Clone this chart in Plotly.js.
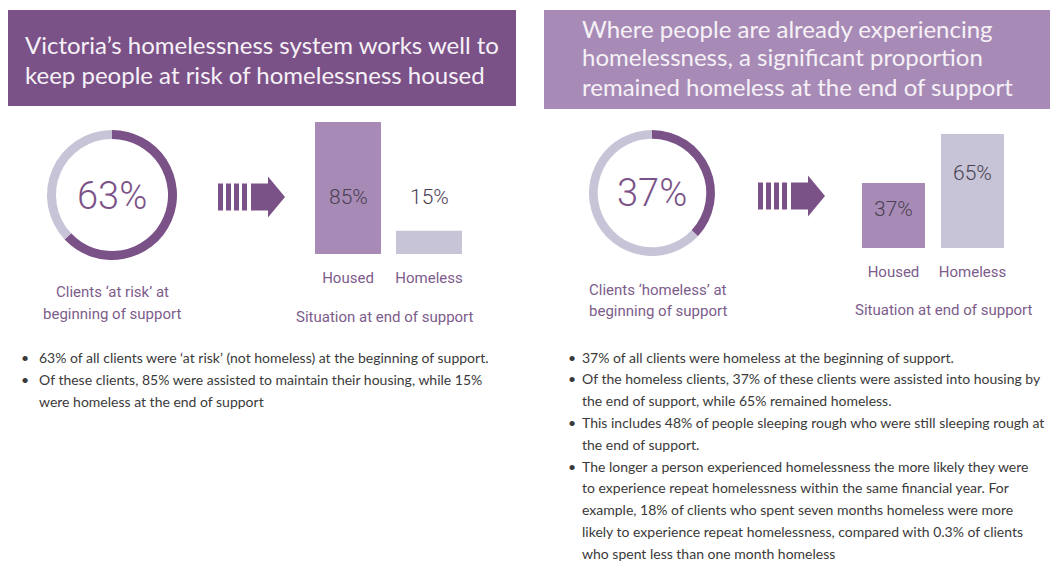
<!DOCTYPE html>
<html>
<head>
<meta charset="utf-8">
<script src="https://cdn.plot.ly/plotly-3.0.1.min.js"></script>
<style>
  html, body { margin: 0; padding: 0; background: #ffffff; }
  #chart { width: 1052px; height: 563px; }
</style>
</head>
<body>
<div id="chart"></div>
<script>
// ---------------- DATA ----------------
const leftHeader = ["Victoria\u2019s homelessness system works well to", "keep people at risk of homelessness housed"];
const rightHeader = ["Where people are already experiencing", "homelessness, a significant proportion", "remained homeless at the end of support"];

const donutSlices = ["Share", "Rest"];
const atRiskStart = [63, 37];      // % of all clients 'at risk' at beginning of support
const homelessStart = [37, 63];    // % of all clients 'homeless' at beginning of support

const outcomeCategories = ["Housed", "Homeless"];
const atRiskOutcomes = [85, 15];   // situation at end of support, 'at risk' clients
const homelessOutcomes = [37, 65]; // situation at end of support, homeless clients

const leftDonutCaption = ["Clients \u2018at risk\u2019 at", "beginning of support"];
const rightDonutCaption = ["Clients \u2018homeless\u2019 at", "beginning of support"];
const barCaption = "Situation at end of support";

const leftBullets = [
  ["63% of all clients were \u2018at risk\u2019 (not homeless) at the beginning of support."],
  ["Of these clients, 85% were assisted to maintain their housing, while 15%", "were homeless at the end of support"]
];
const rightBullets = [
  ["37% of all clients were homeless at the beginning of support."],
  ["Of the homeless clients, 37% of these clients were assisted into housing by", "the end of support, while 65% remained homeless."],
  ["This includes 48% of people sleeping rough who were still sleeping rough at", "the end of support."],
  ["The longer a person experienced homelessness the more likely they were", "to experience repeat homelessness within the same financial year. For", "example, 18% of clients who spent seven months homeless were more", "likely to experience repeat homelessness, compared with 0.3% of clients", "who spent less than one month homeless"]
];

// ---------------- STYLE ----------------
const W = 1052, H = 563;
const px = x => x / W;
const py = y => 1 - y / H;
const DARK = "#7b5288";
const LIGHT = "#a78bb6";
const GREY = "#c6c4d6";
const LABEL = "#7d5c8b";
const VALUE = "#4a4152";
const BODY = "#3a3a3a";

function ann(text, x, y, o) {
  o = o || {};
  return {
    text: text, x: px(x), y: py(y), xref: "paper", yref: "paper",
    showarrow: false, xanchor: o.xanchor || "center", yanchor: "middle",
    font: Object.assign({family: "Lato", size: 14, color: BODY}, o.font || {})
  };
}

const traces = [];
// donuts
function donut(values, x0, x1, y0, y1) {
  return {
    type: "pie", values: values, labels: donutSlices, sort: false,
    direction: "clockwise", rotation: 0, hole: 0.862,
    marker: {colors: [DARK, GREY], line: {width: 0}},
    textinfo: "none", hoverinfo: "skip", showlegend: false,
    domain: {x: [px(x0), px(x1)], y: [py(y1), py(y0)]}
  };
}
traces.push(donut(atRiskStart, 47, 177, 130, 260));
traces.push(donut(homelessStart, 589, 715, 130, 256));

// bars
traces.push({
  type: "bar", x: outcomeCategories, y: atRiskOutcomes, xaxis: "x", yaxis: "y",
  width: 0.815, marker: {color: [LIGHT, GREY], line: {width: 0}},
  hoverinfo: "skip", showlegend: false
});
traces.push({
  type: "bar", x: outcomeCategories, y: homelessOutcomes, xaxis: "x2", yaxis: "y2",
  width: 0.797, marker: {color: [LIGHT, GREY], line: {width: 0}},
  hoverinfo: "skip", showlegend: false
});

const shapes = [];
// header boxes
shapes.push({type: "rect", xref: "paper", yref: "paper", x0: px(8), x1: px(516), y0: py(106), y1: py(10), fillcolor: DARK, line: {width: 0}, layer: "below"});
shapes.push({type: "rect", xref: "paper", yref: "paper", x0: px(544), x1: px(1050), y0: py(109), y1: py(10), fillcolor: LIGHT, line: {width: 0}, layer: "below"});

// arrows
function arrow(x0, yc) {
  for (let i = 0; i < 4; i++) {
    shapes.push({type: "rect", xref: "paper", yref: "paper",
      x0: px(x0 + i * 8), x1: px(x0 + i * 8 + 5), y0: py(yc + 13.5), y1: py(yc - 13.5),
      fillcolor: DARK, line: {width: 0}});
  }
  const b0 = x0 + 33, b1 = x0 + 50, tip = x0 + 67;
  const pts = [[b0, yc - 13.5], [b1, yc - 13.5], [b1, yc - 20.5], [tip, yc], [b1, yc + 20.5], [b1, yc + 13.5], [b0, yc + 13.5]];
  const path = "M " + pts.map(p => px(p[0]) + "," + py(p[1])).join(" L ") + " Z";
  shapes.push({type: "path", xref: "paper", yref: "paper", path: path, fillcolor: DARK, line: {width: 0}});
}
arrow(218, 197);
arrow(758, 196);

const annotations = [];
// header text
leftHeader.forEach((t, i) => annotations.push(ann(t, 23, 45 + i * 29, {xanchor: "left", font: {size: 24, color: "#f6f1f7"}})));
rightHeader.forEach((t, i) => annotations.push(ann(t, 580, 28 + i * 29, {xanchor: "left", font: {size: 24, color: "#f6f1f7"}})));

// donut centers
annotations.push(ann(atRiskStart[0] + "%", 112, 196, {font: {family: "Roboto", size: 38, color: DARK, weight: 300}}));
annotations.push(ann(homelessStart[0] + "%", 652, 193, {font: {family: "Roboto", size: 38, color: DARK, weight: 300}}));

// donut captions
leftDonutCaption.forEach((t, i) => annotations.push(ann(t, 112, 292 + i * 22, {font: {family: "Roboto", size: 15, color: LABEL}})));
rightDonutCaption.forEach((t, i) => annotations.push(ann(t, 658, 290 + i * 21, {font: {family: "Roboto", size: 15, color: LABEL}})));
annotations.push(ann(barCaption, 385, 317, {font: {family: "Roboto", size: 15, color: LABEL}}));
annotations.push(ann(barCaption, 944, 310, {font: {family: "Roboto", size: 15, color: LABEL}}));

// bar value labels (anchored to bar tops)
const leftShift = [-75, 34];
const rightShift = [-26, -39];
outcomeCategories.forEach((c, i) => {
  annotations.push({text: atRiskOutcomes[i] + "%", x: c, y: atRiskOutcomes[i], xref: "x", yref: "y",
    yshift: leftShift[i], showarrow: false, xanchor: "center", yanchor: "middle",
    font: {family: "Roboto", size: 21, color: VALUE, weight: 300}});
  annotations.push({text: homelessOutcomes[i] + "%", x: c, y: homelessOutcomes[i], xref: "x2", yref: "y2",
    yshift: rightShift[i], showarrow: false, xanchor: "center", yanchor: "middle",
    font: {family: "Roboto", size: 21, color: VALUE, weight: 300}});
});

// bullets
function bullets(list, bx, tx, y0, step) {
  let line = 0;
  list.forEach(item => {
    annotations.push(ann("\u2022", bx, y0 + line * step, {font: {size: 14}}));
    item.forEach(t => {
      annotations.push(ann(t, tx, y0 + line * step, {xanchor: "left"}));
      line++;
    });
  });
}
bullets(leftBullets, 25, 37, 357, 22);
bullets(rightBullets, 572, 580, 357, 21.8);

const axisCommon = {type: "category", showgrid: false, zeroline: false, showline: false, ticks: "",
  tickfont: {family: "Roboto", size: 15, color: LABEL}, ticklabelstandoff: 13, fixedrange: true};
const layout = {
  width: W, height: H, margin: {l: 0, r: 0, t: 0, b: 0},
  paper_bgcolor: "#ffffff", plot_bgcolor: "rgba(0,0,0,0)", showlegend: false,
  xaxis: Object.assign({}, axisCommon, {domain: [px(315), px(462)], range: [-0.4075, 1.4075], anchor: "y"}),
  yaxis: {domain: [py(254), py(122)], range: [0, 85], visible: false, fixedrange: true},
  xaxis2: Object.assign({}, axisCommon, {domain: [px(862), px(1004)], range: [-0.3985, 1.3985], anchor: "y2"}),
  yaxis2: {domain: [py(248), py(134)], range: [0, 65], visible: false, fixedrange: true},
  shapes: shapes, annotations: annotations
};
Plotly.newPlot("chart", traces, layout, {staticPlot: true, displayModeBar: false});
</script>
</body>
</html>
